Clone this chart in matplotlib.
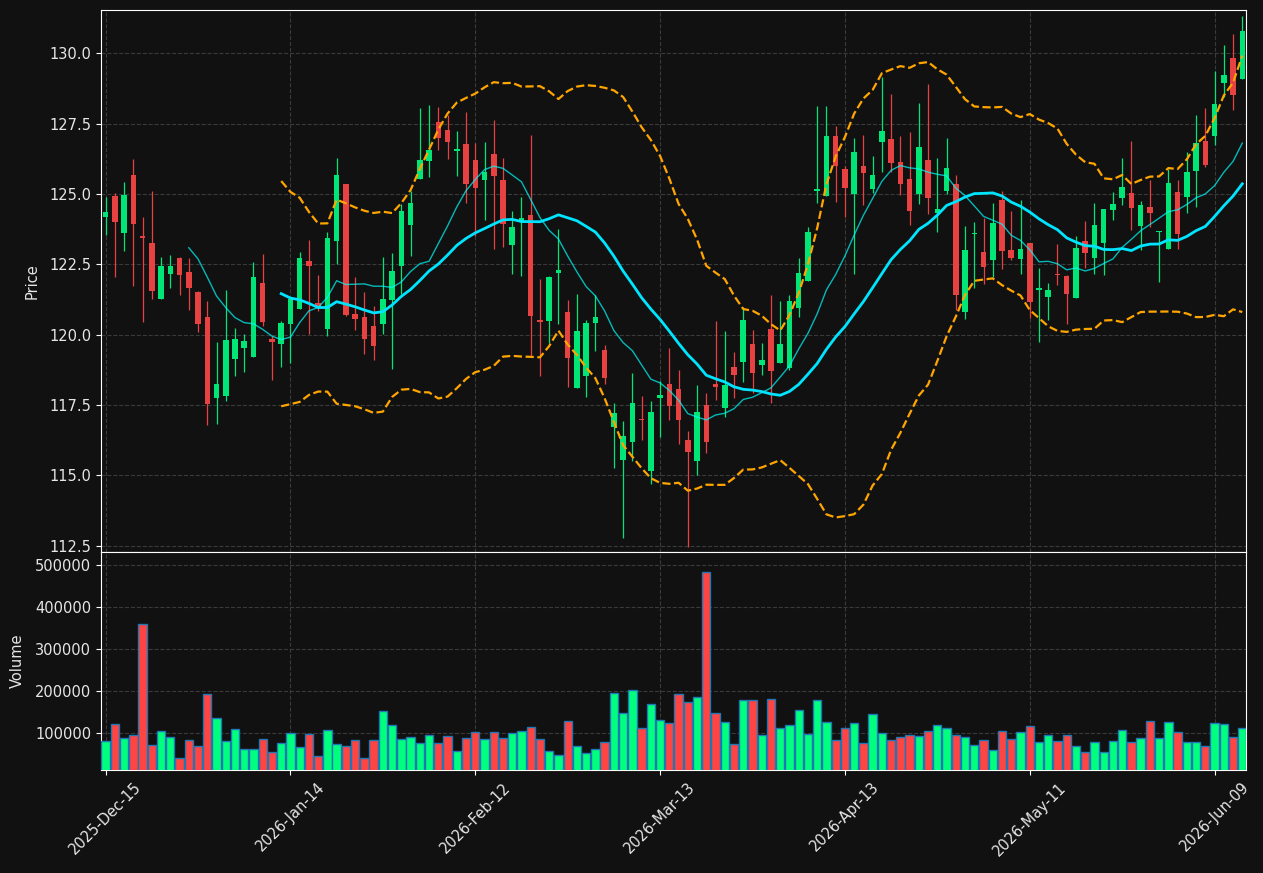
import numpy as np
import pandas as pd
import matplotlib
matplotlib.use("Agg")
import matplotlib.pyplot as plt

# ---------------- data ----------------
holidays = ["2025-12-25", "2026-01-01", "2026-01-19", "2026-02-16", "2026-04-03", "2026-05-25"]
start_date = "2025-12-15"
n_bars = 124

opens = [124.17, 124.94, 123.61, 125.68, 123.52, 123.27, 121.26, 122.15, 122.71, 122.24,
         121.53, 120.61, 117.75, 117.82, 119.13, 119.52, 119.20, 121.82, 119.83, 119.66,
         120.37, 120.90, 122.60, 121.11, 120.19, 123.32, 125.34, 120.74, 120.61, 120.29,
         120.37, 121.23, 122.43, 123.90, 125.52, 126.16, 127.57, 127.28, 126.54, 126.78,
         126.19, 125.51, 126.43, 125.51, 123.18, 124.05, 124.26, 120.51, 120.47, 122.18,
         120.82, 118.10, 118.52, 120.41, 119.44, 116.71, 115.54, 116.18, 117.00, 115.15,
         117.75, 118.26, 118.05, 116.24, 115.50, 117.50, 118.23, 117.38, 118.83, 119.04,
         119.68, 118.92, 120.21, 118.99, 118.81, 120.93, 121.89, 125.09, 124.94, 127.06,
         125.90, 124.99, 126.00, 125.16, 126.83, 126.96, 126.15, 125.54, 124.99, 126.19,
         124.32, 125.11, 125.37, 120.79, 123.56, 122.92, 122.64, 124.77, 122.99, 122.68,
         123.24, 121.60, 121.32, 122.13, 122.10, 121.30, 123.34, 122.72, 123.25, 124.42,
         124.84, 125.04, 123.85, 124.55, 123.66, 123.04, 125.08, 124.90, 125.80, 126.89,
         127.05, 128.93, 129.84, 129.10]
highs = [124.88, 125.03, 125.42, 126.24, 124.18, 125.10, 122.76, 122.83, 122.75, 122.72,
         121.55, 121.20, 119.72, 121.58, 120.24, 120.03, 122.58, 122.87, 119.94, 120.47,
         121.26, 122.94, 123.37, 122.13, 123.64, 126.27, 125.36, 122.05, 121.52, 121.02,
         122.76, 122.90, 124.63, 125.10, 128.07, 128.16, 128.09, 127.80, 127.24, 127.91,
         126.80, 126.84, 127.63, 126.27, 124.41, 124.88, 127.10, 121.98, 122.07, 123.74,
         121.24, 121.45, 120.52, 121.42, 119.62, 117.58, 116.94, 118.65, 117.83, 117.65,
         118.36, 119.51, 118.74, 116.58, 118.19, 117.93, 120.49, 120.13, 119.39, 120.99,
         120.16, 119.71, 121.42, 121.18, 121.42, 122.73, 123.83, 128.14, 128.14, 127.43,
         125.99, 127.00, 127.09, 126.36, 129.15, 128.54, 127.06, 127.21, 128.24, 128.91,
         126.27, 127.00, 125.67, 123.87, 124.01, 124.14, 124.68, 125.10, 124.40, 124.78,
         123.26, 122.35, 121.83, 123.21, 122.12, 123.50, 124.04, 124.68, 124.45, 125.06,
         126.27, 126.88, 124.76, 125.50, 123.70, 125.87, 125.50, 126.48, 127.80, 128.05,
         129.38, 130.31, 130.68, 131.32]
lows = [123.55, 122.04, 122.97, 121.73, 120.44, 121.27, 121.26, 121.65, 121.42, 120.88,
        120.09, 116.80, 116.83, 117.63, 118.53, 118.68, 119.20, 120.29, 118.39, 118.86,
        118.98, 120.90, 120.03, 120.83, 119.94, 122.51, 120.66, 120.18, 119.32, 119.10,
        120.03, 118.79, 121.45, 122.79, 125.52, 125.61, 126.56, 126.24, 125.64, 124.68,
        123.52, 124.08, 123.06, 123.11, 122.16, 122.09, 119.23, 118.52, 119.70, 120.37,
        118.12, 118.10, 117.77, 119.42, 118.25, 115.25, 112.78, 115.50, 116.24, 114.70,
        116.36, 116.98, 116.12, 112.44, 115.01, 115.80, 117.68, 117.08, 117.75, 118.31,
        117.93, 118.55, 117.56, 118.99, 118.73, 120.62, 121.89, 124.67, 124.94, 124.72,
        124.18, 122.16, 124.61, 125.04, 125.79, 125.79, 124.96, 123.89, 124.63, 124.29,
        123.64, 125.00, 120.87, 120.56, 121.67, 121.79, 122.04, 122.34, 122.66, 122.16,
        120.58, 119.72, 120.53, 121.77, 120.39, 121.30, 122.35, 122.16, 122.13, 124.08,
        124.61, 123.71, 123.00, 123.83, 121.88, 123.04, 123.03, 124.32, 124.53, 125.95,
        126.73, 128.46, 128.00, 129.10]
closes = [124.37, 123.99, 124.98, 123.92, 123.42, 121.55, 122.45, 122.45, 122.11, 121.65,
          120.37, 117.54, 118.26, 119.79, 119.86, 119.76, 122.06, 120.44, 119.73, 120.40,
          121.26, 122.71, 122.43, 120.99, 123.45, 125.68, 120.71, 120.55, 119.84, 119.58,
          121.25, 122.27, 124.41, 124.69, 126.21, 126.56, 126.98, 126.83, 126.61, 125.35,
          125.22, 125.79, 125.64, 123.92, 123.84, 124.13, 120.65, 120.46, 122.03, 122.31,
          119.16, 120.14, 120.42, 120.61, 118.45, 117.20, 116.38, 117.58, 116.96, 117.24,
          117.84, 117.46, 116.98, 115.81, 117.24, 116.17, 118.13, 118.20, 118.58, 120.53,
          118.62, 119.08, 118.70, 119.68, 121.18, 122.20, 123.66, 125.19, 127.06, 126.00,
          125.22, 126.50, 125.73, 125.68, 127.25, 126.11, 125.35, 124.38, 126.68, 124.84,
          124.47, 125.93, 121.39, 122.99, 123.60, 122.40, 123.98, 122.97, 122.72, 123.03,
          121.15, 121.64, 121.57, 122.11, 121.44, 123.09, 122.89, 123.90, 124.45, 124.66,
          125.26, 124.51, 124.62, 124.31, 123.70, 125.40, 123.56, 125.79, 126.82, 126.04,
          128.21, 129.23, 128.53, 130.80]
volumes = [81000, 121600, 88000, 95200, 361100, 71300, 106400, 90400, 40100, 83200,
           68900, 193400, 135900, 80800, 109600, 63300, 63300, 85600, 54500, 76000,
           100000, 66500, 98400, 44900, 107200, 73700, 68900, 83200, 40100, 83200,
           152700, 119200, 85600, 90400, 76000, 95200, 76000, 92800, 56900, 88000,
           102400, 85600, 102400, 88000, 100000, 104800, 114400, 85600, 56900, 47300,
           128700, 68900, 52100, 61700, 78400, 195800, 147900, 203000, 112000, 169500,
           131100, 124000, 193400, 174300, 186200, 483200, 147900, 126300, 73700, 179000,
           179000, 95200, 181400, 112000, 119200, 155100, 97600, 179000, 126300, 83200,
           112000, 124000, 76000, 145500, 100000, 83200, 90400, 95200, 92800, 104800,
           119200, 112000, 95200, 90400, 71300, 83200, 59300, 104800, 85600, 102400,
           116800, 78400, 95200, 80800, 95200, 68900, 54500, 78400, 54500, 80800,
           107200, 78400, 88000, 128700, 88000, 126300, 102400, 78400, 78400, 68900,
           124000, 121600, 90400, 112000]

# ---------------- derived ----------------
bday = pd.offsets.CustomBusinessDay(holidays=holidays)
dates = pd.date_range(start=start_date, periods=n_bars, freq=bday)
df = pd.DataFrame({"Open": opens, "High": highs, "Low": lows, "Close": closes,
                   "Volume": volumes}, index=dates)
x = np.arange(len(df))
sma10 = df["Close"].rolling(10).mean()
sma20 = df["Close"].rolling(20).mean()
std20 = df["Close"].rolling(20).std(ddof=0)
upper = sma20 + 2 * std20
lower = sma20 - 2 * std20

up = df["Close"] >= df["Open"]
c_up, c_dn = "#00e676", "#e84142"
v_up, v_dn = "#00ff7f", "#ff4444"
candle_colors = np.where(up, c_up, c_dn)
vol_colors = np.where(up, v_up, v_dn)

# ---------------- figure ----------------
bg = "#111111"
fs = 10.5
txt = "#e6e6e6"
W, H = 1263, 873
fig = plt.figure(figsize=(W / 100, H / 100), dpi=100, facecolor=bg)
left, right = 101 / W, 1246 / W
ax = fig.add_axes([left, (H - 552) / H, right - left, (552 - 10) / H])
axv = fig.add_axes([left, (H - 770) / H, right - left, (770 - 552) / H], sharex=ax)

for a in (ax, axv):
    a.set_facecolor(bg)
    for s in a.spines.values():
        s.set_color("white")
    a.tick_params(colors="white", labelcolor=txt, labelsize=fs)
    a.grid(True, linestyle="--", color="#3a3a3a", linewidth=0.8)
    a.set_axisbelow(True)

# candles
body_bottom = np.minimum(df["Open"], df["Close"])
body_height = np.maximum(np.abs(df["Close"] - df["Open"]), 0.03)
ax.vlines(x, df["Low"], df["High"], colors=candle_colors, linewidth=0.9, zorder=2)
ax.bar(x, body_height, bottom=body_bottom, width=0.6, color=candle_colors,
       linewidth=0, zorder=3)

# indicators
ax.plot(x, sma10, color="cyan", alpha=0.7, linewidth=1.0, zorder=4)
ax.plot(x, sma20, color="#00e5ff", linewidth=2.0, zorder=4)
ax.plot(x, upper, color="orange", linestyle="--", linewidth=1.6, zorder=4)
ax.plot(x, lower, color="orange", linestyle="--", linewidth=1.6, zorder=4)

ax.set_ylim(112.27, 131.54)
ax.set_yticks(np.arange(112.5, 130.01, 2.5))
ax.yaxis.set_major_formatter(matplotlib.ticker.FormatStrFormatter("%.1f"))
ax.set_ylabel("Price", color=txt, fontsize=fs, labelpad=7)
ax.tick_params(axis="x", labelbottom=False, length=0)

# volume
axv.bar(x, df["Volume"], width=0.9, color=vol_colors, edgecolor="#1f77b4",
        linewidth=1.0, zorder=3)
axv.set_ylim(12500, 531500)
axv.set_yticks([100000, 200000, 300000, 400000, 500000])
axv.yaxis.set_major_formatter(matplotlib.ticker.FuncFormatter(lambda v, p: f"{int(v)}"))
axv.set_ylabel("Volume", color=txt, fontsize=fs, labelpad=7)

tick_pos = list(range(0, n_bars, 20))
axv.set_xticks(tick_pos)
axv.set_xticklabels([dates[i].strftime("%Y-%b-%d") for i in tick_pos],
                    rotation=45, ha="center")
axv.set_xlim(-0.5, n_bars - 0.6)

fig.savefig("out.png", dpi=100, facecolor=bg)
